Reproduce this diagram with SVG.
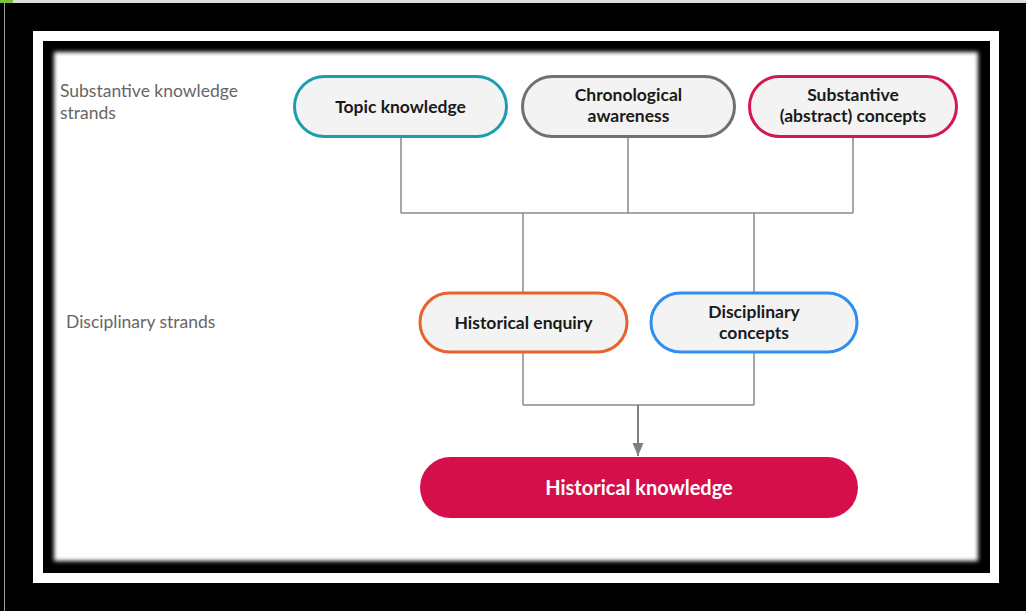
<svg xmlns="http://www.w3.org/2000/svg" width="1026" height="611" viewBox="0 0 1026 611">
<defs>
<filter id="soft" x="-5%" y="-5%" width="110%" height="110%"><feGaussianBlur stdDeviation="2.2"/></filter>
<marker id="arr" markerWidth="13" markerHeight="11" refX="13" refY="5.5" orient="auto" markerUnits="userSpaceOnUse" viewBox="0 0 13 11"><path d="M0,0 L13,5.5 L0,11 Z" fill="#808080"/></marker>
</defs>
<style>
.node{fill:#f3f3f3;stroke-width:3}
.lbl{font-family:Lato,"Liberation Sans",sans-serif;font-weight:bold;font-size:17.5px;fill:#1a1a1a;text-anchor:middle}
.side{font-family:Lato,"Liberation Sans",sans-serif;font-size:17.5px;fill:#666}
.conn{fill:none;stroke:#8a8a8a;stroke-width:1.5}
</style>
<rect x="0" y="0" width="1026" height="611" fill="#000"/>
<rect x="0" y="0" width="1026" height="3" fill="#dcdcdc"/>
<rect x="0" y="0" width="13" height="3" fill="#7cc242"/>
<rect x="4" y="3" width="1" height="608" fill="#999"/>
<rect x="33" y="31" width="966" height="552" fill="#fff"/>
<rect x="43" y="41" width="947" height="532" fill="#000"/>
<rect x="54" y="52" width="924" height="509" fill="#fff" filter="url(#soft)"/>
<text class="side" x="60" y="97">Substantive knowledge</text>
<text class="side" x="60" y="119">strands</text>
<text class="side" x="66" y="328">Disciplinary strands</text>
<g id="connectors">
<path class="conn" d="M401,137 V213 M628,137 V213 M853,137 V213 M401,213 H853 M523,213 V292 M754,213 V292"/>
<path class="conn" d="M523,353 V405 M754,353 V405 M523,405 H754"/>
<path d="M638,405 V456" fill="none" stroke="#808080" stroke-width="2" marker-end="url(#arr)"/>
</g>
<g id="topic">
<rect class="node" x="294.5" y="76.5" width="212" height="60" rx="30" stroke="#1a9db0"/>
<text class="lbl" x="400.5" y="113">Topic knowledge</text>
</g>
<g id="chrono">
<rect class="node" x="522.5" y="76.5" width="212" height="60" rx="30" stroke="#707070"/>
<text class="lbl" x="628.5" y="101">Chronological</text>
<text class="lbl" x="628.5" y="122">awareness</text>
</g>
<g id="substantive">
<rect class="node" x="749.5" y="76.5" width="207" height="60" rx="30" stroke="#d4174e"/>
<text class="lbl" x="853" y="101">Substantive</text>
<text class="lbl" x="853" y="122">(abstract) concepts</text>
</g>
<g id="enquiry">
<rect class="node" x="420" y="293" width="207" height="59" rx="29.5" stroke="#e8622a"/>
<text class="lbl" x="523.5" y="329">Historical enquiry</text>
</g>
<g id="disciplinary">
<rect class="node" x="651" y="293" width="206" height="59" rx="29.5" stroke="#2f8ff0"/>
<text class="lbl" x="754" y="318">Disciplinary</text>
<text class="lbl" x="754" y="339">concepts</text>
</g>
<g id="historical">
<rect x="420" y="457" width="438" height="61" rx="30.5" fill="#d50f4b"/>
<text class="lbl" x="639" y="495" style="fill:#fff;font-size:20px">Historical knowledge</text>
</g>
</svg>
